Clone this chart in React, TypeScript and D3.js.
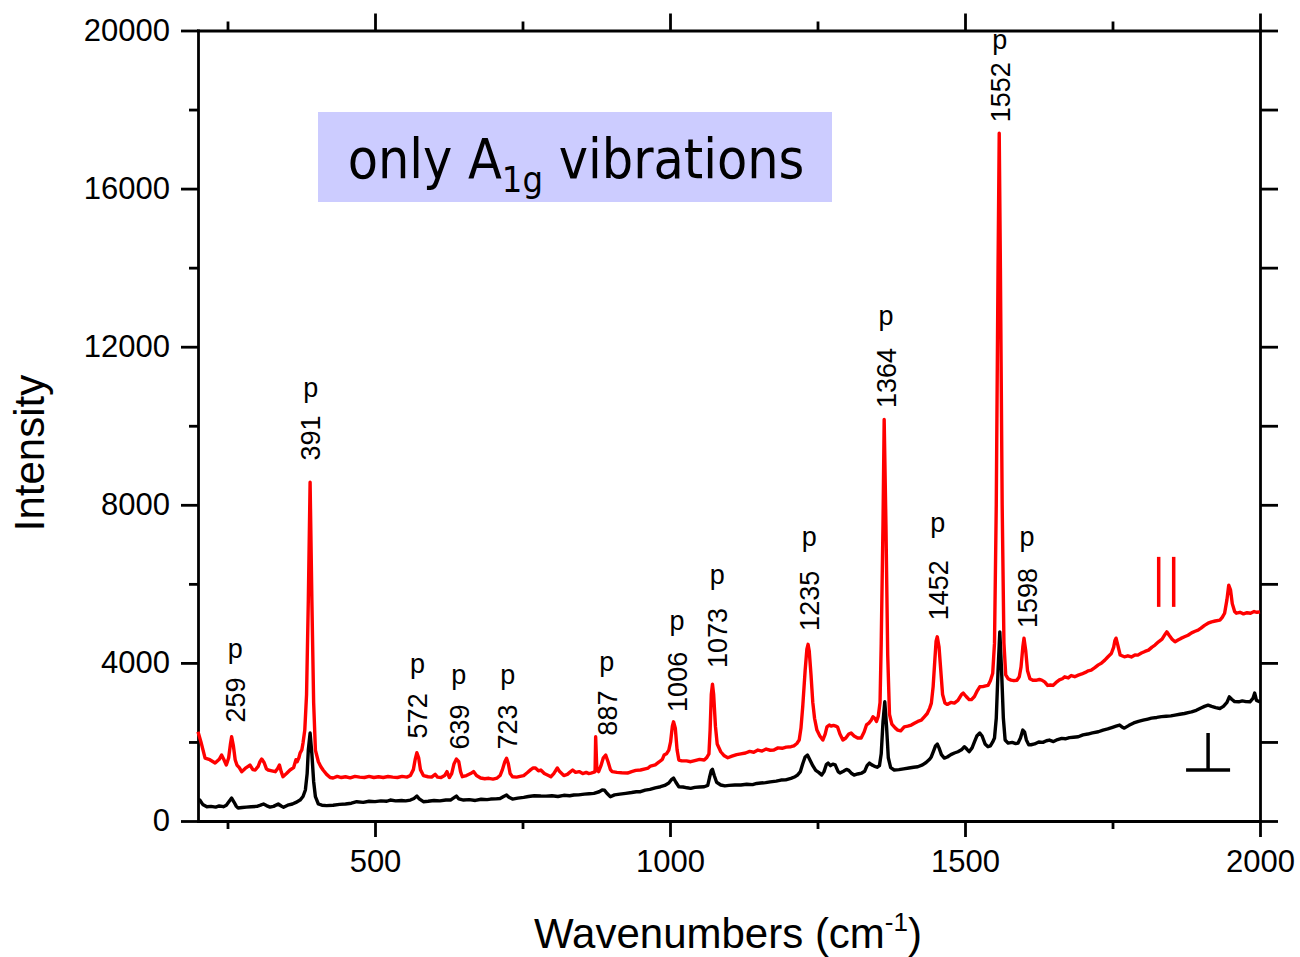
import React, { useRef, useEffect } from "react";
import * as d3 from "d3";

// parallel polarisation (red), [wavenumber, intensity]
const parallelSpectrum: [number, number][] = [
  [200, 2260], [205, 2000], [212, 1590], [220, 1550], [229, 1466], [236, 1560], [240, 1668], [244, 1550],
  [248, 1416], [252, 1600], [255, 1950], [257, 2131], [260, 1900], [263, 1550], [266, 1416], [270, 1350],
  [274, 1247], [280, 1330], [288, 1416], [293, 1300], [297, 1290], [302, 1380], [305, 1500], [308, 1567],
  [312, 1480], [316, 1320], [319, 1290], [325, 1270], [331, 1247], [335, 1330], [338, 1416], [341, 1250],
  [344, 1121], [350, 1200], [356, 1290], [362, 1350], [366, 1550], [368, 1500], [371, 1600], [373, 1719],
  [376, 1800], [378, 1972], [381, 2300], [384, 3200], [387, 5600], [390, 8570], [393, 5600], [396, 3000],
  [399, 1795], [404, 1500], [408, 1380], [412, 1290], [418, 1180], [424, 1100], [429, 1087], [436, 1130],
  [443, 1100], [450, 1120], [458, 1090], [466, 1130], [474, 1110], [482, 1100], [490, 1130], [498, 1100],
  [506, 1120], [514, 1100], [522, 1125], [530, 1110], [538, 1100], [546, 1130], [554, 1110], [560, 1150],
  [565, 1300], [568, 1550], [571, 1727], [574, 1600], [577, 1300], [582, 1150], [590, 1120], [596, 1110],
  [602, 1180], [606, 1110], [612, 1100], [618, 1150], [622, 1250], [626, 1100], [630, 1200], [634, 1450],
  [638, 1567], [642, 1500], [645, 1250], [648, 1120], [655, 1150], [662, 1200], [667, 1250], [672, 1150],
  [679, 1087], [686, 1070], [693, 1080], [700, 1060], [707, 1087], [712, 1150], [716, 1300], [720, 1500],
  [723, 1590], [726, 1450], [729, 1200], [733, 1120], [740, 1110], [746, 1130], [752, 1150], [758, 1220],
  [764, 1300], [768, 1340], [772, 1340], [777, 1270], [781, 1290], [787, 1200], [794, 1150], [798, 1120],
  [803, 1200], [809, 1340], [813, 1250], [820, 1150], [826, 1180], [830, 1230], [835, 1290], [840, 1230],
  [846, 1250], [852, 1200], [858, 1230], [862, 1200], [866, 1213], [870, 1230], [873, 1250], [874, 2131],
  [876, 1300], [879, 1250], [883, 1400], [887, 1600], [891, 1668], [895, 1500], [899, 1300], [902, 1250],
  [910, 1230], [918, 1220], [928, 1213], [935, 1250], [942, 1280], [950, 1290], [958, 1320], [963, 1340],
  [967, 1390], [975, 1420], [982, 1500], [987, 1560], [990, 1668], [994, 1700], [998, 1795], [1001, 2000],
  [1004, 2400], [1006, 2510], [1009, 2350], [1012, 1800], [1015, 1542], [1020, 1520], [1028, 1520],
  [1035, 1500], [1042, 1530], [1050, 1560], [1058, 1542], [1062, 1600], [1066, 1700], [1068, 2300],
  [1070, 3200], [1072, 3460], [1074, 3200], [1077, 2400], [1080, 1950], [1086, 1752], [1092, 1650],
  [1098, 1600], [1105, 1640], [1113, 1680], [1120, 1700], [1128, 1720], [1135, 1760], [1142, 1740],
  [1149, 1795], [1156, 1770], [1163, 1820], [1170, 1790], [1176, 1795], [1183, 1850], [1190, 1840],
  [1197, 1870], [1205, 1880], [1210, 1900], [1215, 1960], [1219, 2048], [1222, 2350], [1225, 2900],
  [1229, 3800], [1232, 4350], [1234, 4470], [1236, 4300], [1239, 3700], [1242, 3000], [1245, 2600],
  [1249, 2300], [1254, 2150], [1259, 2048], [1263, 2200], [1266, 2380], [1270, 2427], [1273, 2400],
  [1277, 2420], [1281, 2400], [1284, 2380], [1288, 2200], [1293, 2048], [1298, 2100], [1303, 2200],
  [1307, 2225], [1312, 2150], [1318, 2100], [1324, 2100], [1329, 2250], [1333, 2430], [1337, 2477],
  [1341, 2550], [1344, 2637], [1347, 2600], [1350, 2520], [1353, 2650], [1356, 3000], [1358, 4500],
  [1361, 7500], [1363, 10160], [1366, 7500], [1369, 4200], [1372, 2700], [1376, 2450], [1382, 2350],
  [1386, 2300], [1391, 2280], [1397, 2380], [1403, 2400], [1409, 2427], [1415, 2480], [1420, 2520],
  [1426, 2550], [1431, 2637], [1436, 2720], [1440, 2850], [1443, 2983], [1446, 3400], [1449, 4100],
  [1451, 4550], [1453, 4660], [1456, 4400], [1459, 3800], [1462, 3200], [1466, 2983], [1470, 2950],
  [1476, 3000], [1482, 2983], [1488, 3050], [1494, 3200], [1497, 3236], [1502, 3150], [1507, 3070],
  [1511, 3070], [1516, 3150], [1521, 3300], [1525, 3395], [1530, 3400], [1535, 3420], [1539, 3430],
  [1543, 3550], [1547, 3740], [1550, 4500], [1553, 8000], [1556, 14000], [1558, 17400], [1560, 14000],
  [1563, 8000], [1566, 4500], [1569, 3700], [1573, 3600], [1578, 3565], [1583, 3550], [1588, 3560],
  [1592, 3650], [1595, 3900], [1598, 4400], [1600, 4626], [1603, 4300], [1606, 3800], [1610, 3600],
  [1615, 3560], [1620, 3560], [1626, 3580], [1630, 3565], [1635, 3520], [1640, 3430], [1645, 3440],
  [1649, 3430], [1654, 3500], [1660, 3570], [1665, 3600], [1669, 3648], [1675, 3620], [1680, 3680],
  [1686, 3650], [1692, 3690], [1698, 3720], [1704, 3760], [1709, 3800], [1714, 3817], [1720, 3880],
  [1726, 3950], [1731, 3990], [1737, 4070], [1742, 4150], [1748, 4238], [1752, 4400], [1754, 4560],
  [1756, 4626], [1759, 4450], [1763, 4200], [1770, 4154], [1776, 4180], [1782, 4150], [1788, 4200],
  [1793, 4196], [1799, 4250], [1805, 4290], [1811, 4323], [1817, 4400], [1822, 4450], [1828, 4533],
  [1834, 4600], [1839, 4720], [1842, 4786], [1846, 4700], [1851, 4600], [1856, 4533], [1861, 4580],
  [1866, 4620], [1872, 4660], [1878, 4700], [1884, 4760], [1890, 4800], [1895, 4828], [1900, 4880],
  [1906, 4950], [1912, 5005], [1918, 5040], [1924, 5060], [1932, 5081], [1936, 5150], [1940, 5257],
  [1944, 5600], [1947, 5966], [1950, 5850], [1953, 5500], [1957, 5300], [1960, 5257], [1966, 5280],
  [1972, 5240], [1978, 5270], [1984, 5257], [1990, 5300], [1995, 5280], [2000, 5290],
];

// perpendicular polarisation (black)
const perpendicularSpectrum: [number, number][] = [
  [200, 530], [203, 530], [208, 420], [215, 362], [222, 370], [230, 350], [236, 380], [243, 362],
  [248, 400], [252, 480], [257, 580], [261, 480], [265, 370], [268, 328], [275, 340], [282, 350],
  [290, 360], [300, 370], [306, 400], [311, 430], [316, 390], [322, 350], [328, 370], [336, 430],
  [341, 380], [345, 350], [352, 400], [360, 430], [366, 470], [373, 530], [378, 620], [382, 784],
  [385, 1200], [387, 1800], [390, 2225], [393, 1700], [396, 1000], [399, 615], [404, 430], [410, 400],
  [418, 390], [429, 400], [440, 420], [450, 430], [460, 450], [469, 488], [480, 470], [490, 500],
  [500, 490], [510, 510], [520, 500], [526, 530], [535, 510], [545, 520], [552, 510], [560, 530],
  [566, 570], [571, 632], [575, 560], [582, 488], [590, 500], [600, 520], [610, 510], [620, 530],
  [628, 530], [634, 590], [638, 632], [642, 560], [650, 530], [660, 540], [670, 520], [680, 550],
  [690, 540], [696, 555], [705, 560], [712, 570], [718, 620], [723, 657], [727, 600], [733, 555],
  [742, 580], [752, 598], [760, 620], [770, 640], [781, 632], [790, 630], [800, 640], [810, 620],
  [820, 650], [830, 640], [837, 657], [845, 660], [855, 680], [863, 690], [871, 700], [880, 740],
  [885, 784], [889, 780], [893, 700], [899, 615], [906, 660], [915, 680], [925, 700], [935, 720],
  [943, 740], [950, 741], [958, 780], [966, 800], [975, 840], [984, 867], [991, 900], [998, 960],
  [1002, 1040], [1006, 1087], [1010, 980], [1015, 867], [1022, 860], [1029, 840], [1035, 825],
  [1042, 850], [1050, 860], [1058, 867], [1064, 900], [1067, 1100], [1070, 1280], [1072, 1306],
  [1075, 1150], [1079, 980], [1086, 910], [1093, 890], [1100, 900], [1110, 910], [1120, 910],
  [1130, 930], [1140, 920], [1147, 950], [1154, 960], [1162, 970], [1170, 990], [1180, 1010],
  [1188, 1036], [1196, 1040], [1205, 1080], [1212, 1120], [1216, 1163], [1221, 1250], [1225, 1450],
  [1229, 1620], [1233, 1668], [1237, 1550], [1242, 1400], [1247, 1280], [1252, 1230], [1257, 1163],
  [1261, 1250], [1265, 1430], [1268, 1466], [1272, 1400], [1276, 1440], [1280, 1420], [1285, 1250],
  [1288, 1213], [1294, 1260], [1299, 1306], [1303, 1280], [1308, 1200], [1312, 1163], [1318, 1190],
  [1325, 1213], [1330, 1260], [1334, 1400], [1338, 1466], [1342, 1420], [1346, 1390], [1351, 1360],
  [1355, 1400], [1358, 1700], [1361, 2500], [1364, 3016], [1367, 2400], [1370, 1600], [1374, 1350],
  [1380, 1290], [1388, 1300], [1396, 1320], [1405, 1340], [1413, 1360], [1420, 1373], [1428, 1420],
  [1434, 1480], [1440, 1560], [1443, 1626], [1447, 1780], [1450, 1900], [1453, 1946], [1456, 1850],
  [1460, 1680], [1465, 1592], [1470, 1620], [1476, 1680], [1482, 1720], [1488, 1752], [1494, 1800],
  [1499, 1880], [1503, 1820], [1507, 1752], [1512, 1850], [1516, 2000], [1520, 2150], [1525, 2225],
  [1529, 2150], [1534, 1950], [1539, 1880], [1543, 1900], [1547, 2000], [1550, 2100], [1553, 2600],
  [1556, 3800], [1559, 4786], [1562, 3800], [1565, 2600], [1568, 2050], [1573, 1972], [1580, 1990],
  [1586, 1960], [1590, 1972], [1594, 2100], [1598, 2300], [1601, 2250], [1604, 2050], [1608, 1930],
  [1612, 1930], [1618, 1950], [1625, 2000], [1632, 1990], [1638, 2030], [1643, 2048], [1650, 2010],
  [1657, 2060], [1664, 2090], [1670, 2080], [1677, 2110], [1684, 2120], [1692, 2131], [1700, 2180],
  [1708, 2200], [1716, 2230], [1726, 2258], [1734, 2300], [1742, 2330], [1750, 2370], [1756, 2400],
  [1762, 2427], [1766, 2380], [1770, 2350], [1778, 2420], [1786, 2480], [1794, 2520], [1802, 2550],
  [1810, 2580], [1816, 2604], [1825, 2620], [1833, 2640], [1841, 2650], [1849, 2660], [1856, 2680],
  [1864, 2700], [1872, 2720], [1880, 2750], [1884, 2763], [1892, 2800], [1900, 2860], [1906, 2900],
  [1912, 2932], [1918, 2900], [1925, 2870], [1932, 2847], [1938, 2900], [1944, 3000], [1948, 3142],
  [1952, 3080], [1957, 3020], [1964, 3016], [1970, 3040], [1976, 3020], [1983, 3016], [1988, 3100],
  [1991, 3236], [1994, 3050], [2000, 3016],
];

const yMajorTicks = [0, 4000, 8000, 12000, 16000, 20000];
const yMinorTicks = [2000, 6000, 10000, 14000, 18000];
const xMajorTicks = [500, 1000, 1500, 2000];
const xMinorTicks = [250, 750, 1250, 1750];

// band labels: text, number centre and "p" centre (wavenumber, intensity)
const peakLabels = [
  { text: "259", wn: 263, intensity: 3060, pIntensity: 4225 },
  { text: "391", wn: 391, intensity: 9690, pIntensity: 10830 },
  { text: "572", wn: 572, intensity: 2660, pIntensity: 3846 },
  { text: "639", wn: 642, intensity: 2380, pIntensity: 3567 },
  { text: "723", wn: 725, intensity: 2380, pIntensity: 3567 },
  { text: "887", wn: 893, intensity: 2730, pIntensity: 3896 },
  { text: "1006", wn: 1012, intensity: 3520, pIntensity: 4934 },
  { text: "1073", wn: 1080, intensity: 4630, pIntensity: 6097 },
  { text: "1235", wn: 1236, intensity: 5570, pIntensity: 7059 },
  { text: "1364", wn: 1366, intensity: 11210, pIntensity: 12650 },
  { text: "1452", wn: 1454, intensity: 5840, pIntensity: 7413 },
  { text: "1552", wn: 1559, intensity: 18440, pIntensity: 19630 },
  { text: "1598", wn: 1605, intensity: 5640, pIntensity: 7059 },
];

const parallelMark = { wn: 1841, intensity: 6050 };
const perpendicularMark = { wn: 1912, intensity: 1290 };

const FONT = "'Liberation Sans', Arial, sans-serif";

export default function App() {
  const svgRef = useRef<SVGSVGElement>(null);

  useEffect(() => {
    const svg = d3.select(svgRef.current);
    svg.selectAll("*").remove();

    const x = d3.scaleLinear().domain([200, 2000]).range([198, 1260]);
    const y = d3.scaleLinear().domain([0, 20000]).range([821, 30.5]);

    const styleAxis = (g: any) => {
      g.selectAll("path").attr("stroke", "#000").attr("stroke-width", 2.8).attr("stroke-linecap", "square");
      g.selectAll("line").attr("stroke", "#000").attr("stroke-width", 2.8);
      g.selectAll("text").attr("font-family", FONT).attr("font-size", 31).attr("fill", "#000");
    };
    const noDomain = (g: any) => g.select(".domain").remove();

    // left
    svg.append("g").attr("transform", "translate(198,0)")
      .call(d3.axisLeft(y).tickValues(yMajorTicks).tickSize(17).tickSizeOuter(0).tickPadding(11).tickFormat(d3.format("d")))
      .call(styleAxis);
    svg.append("g").attr("transform", "translate(198,0)")
      .call(d3.axisLeft(y).tickValues(yMinorTicks).tickSize(9).tickFormat(() => ""))
      .call(noDomain).call(styleAxis);
    // right
    svg.append("g").attr("transform", "translate(1260,0)")
      .call(d3.axisRight(y).tickValues([...yMajorTicks, ...yMinorTicks]).tickSize(18).tickSizeOuter(0).tickFormat(() => ""))
      .call(styleAxis);
    // bottom
    svg.append("g").attr("transform", "translate(0,821)")
      .call(d3.axisBottom(x).tickValues(xMajorTicks).tickSize(16).tickSizeOuter(0).tickPadding(13).tickFormat(d3.format("d")))
      .call(styleAxis);
    svg.append("g").attr("transform", "translate(0,821)")
      .call(d3.axisBottom(x).tickValues(xMinorTicks).tickSize(8).tickFormat(() => ""))
      .call(noDomain).call(styleAxis);
    // top
    svg.append("g").attr("transform", "translate(0,30.5)")
      .call(d3.axisTop(x).tickValues(xMajorTicks).tickSize(17).tickSizeOuter(0).tickFormat(() => ""))
      .call(styleAxis);
    svg.append("g").attr("transform", "translate(0,30.5)")
      .call(d3.axisTop(x).tickValues(xMinorTicks).tickSize(9).tickFormat(() => ""))
      .call(noDomain).call(styleAxis);

    // axis titles
    svg.append("text")
      .attr("transform", "translate(44,453) rotate(-90)")
      .attr("text-anchor", "middle")
      .attr("font-family", FONT).attr("font-size", 42)
      .text("Intensity");
    const xt = svg.append("text")
      .attr("x", 728).attr("y", 948)
      .attr("text-anchor", "middle")
      .attr("font-family", FONT).attr("font-size", 42);
    xt.append("tspan").text("Wavenumbers (cm");
    xt.append("tspan").attr("font-size", 26).attr("dy", -17).text("-1");
    xt.append("tspan").attr("dy", 17).text(")");

    // spectra
    const line = d3.line<[number, number]>().x((d) => x(d[0])).y((d) => y(d[1]));
    svg.append("path").datum(perpendicularSpectrum)
      .attr("fill", "none").attr("stroke", "#000").attr("stroke-width", 3.4)
      .attr("stroke-linejoin", "round").attr("d", line);
    svg.append("path").datum(parallelSpectrum)
      .attr("fill", "none").attr("stroke", "#ff0000").attr("stroke-width", 3.4)
      .attr("stroke-linejoin", "round").attr("d", line);

    // band labels
    const lab = svg.append("g").attr("font-family", FONT).attr("font-size", 27).attr("fill", "#000");
    peakLabels.forEach((p) => {
      const cx = x(p.wn);
      lab.append("text")
        .attr("transform", `translate(${cx},${y(p.intensity)}) rotate(-90)`)
        .attr("text-anchor", "middle").attr("dy", "0.36em")
        .text(p.text);
      lab.append("text")
        .attr("x", cx).attr("y", y(p.pIntensity))
        .attr("text-anchor", "middle").attr("dy", "0.16em")
        .text("p");
    });

    // polarisation marks
    const px = x(parallelMark.wn);
    const py = y(parallelMark.intensity);
    [-7.5, 7.5].forEach((dx) => {
      svg.append("line")
        .attr("x1", px + dx).attr("x2", px + dx).attr("y1", py - 25).attr("y2", py + 25)
        .attr("stroke", "#ff0000").attr("stroke-width", 3.5);
    });
    const qx = x(perpendicularMark.wn);
    const qy = y(perpendicularMark.intensity);
    svg.append("line").attr("x1", qx).attr("x2", qx).attr("y1", qy - 37).attr("y2", qy)
      .attr("stroke", "#000").attr("stroke-width", 3.5);
    svg.append("line").attr("x1", qx - 22).attr("x2", qx + 22).attr("y1", qy).attr("y2", qy)
      .attr("stroke", "#000").attr("stroke-width", 3.5);

    // note box
    svg.append("rect").attr("x", 318).attr("y", 112).attr("width", 514).attr("height", 90).attr("fill", "#ccccff");
    const note = svg.append("text")
      .attr("x", 576).attr("y", 178).attr("text-anchor", "middle")
      .attr("font-family", "'DejaVu Sans Condensed', 'DejaVu Sans', sans-serif").attr("font-size", 55);
    note.append("tspan").text("only A");
    note.append("tspan").attr("font-size", 36).attr("dy", 14).text("1g");
    note.append("tspan").attr("dy", -14).text(" vibrations");
  }, []);

  return (
    <svg
      ref={svgRef}
      width={1300}
      height={957}
      style={{ position: "absolute", left: 0, top: 0, background: "#fff" }}
    />
  );
}
